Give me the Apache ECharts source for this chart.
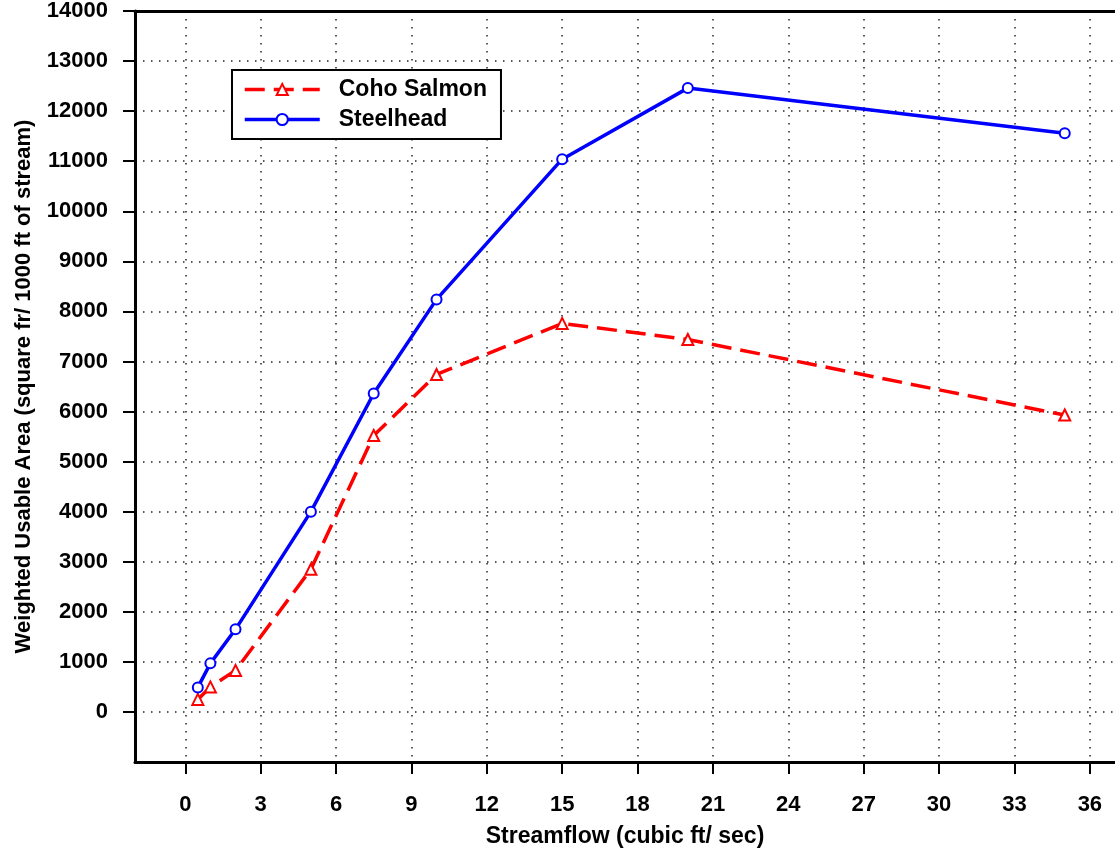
<!DOCTYPE html>
<html>
<head>
<meta charset="utf-8">
<script src="https://cdn.jsdelivr.net/npm/echarts@6/dist/echarts.min.js"></script>
<style>
  html, body { margin: 0; padding: 0; background: #fff; }
  #chart { width: 1115px; height: 858px; }
</style>
</head>
<body>
<div id="chart"></div>
<script>
const flows = [0.5, 1, 2, 5, 7.5, 10, 15, 20, 35];
const cohoSalmon = [250, 500, 830, 2850, 5520, 6740, 7760, 7440, 5930];
const steelhead = [490, 970, 1650, 4000, 6360, 8240, 11040, 12460, 11560];
const xTicks = [0, 3, 6, 9, 12, 15, 18, 21, 24, 27, 30, 33, 36];
const yTicks = [0, 1000, 2000, 3000, 4000, 5000, 6000, 7000, 8000, 9000, 10000, 11000, 12000, 13000, 14000];

const chart = echarts.init(document.getElementById('chart'));
const font = 'Liberation Sans, Arial, sans-serif';
const dotted = { color: '#222', width: 1.5, type: [1.5, 6.5] };

const option = {
  backgroundColor: '#fff',
  animation: false,
  textStyle: { fontFamily: font },
  grid: { left: 135, right: 0, top: 11, bottom: 96 },
  legend: {
    orient: 'vertical',
    left: 232,
    top: 70,
    padding: [8, 14, 8, 11],
    borderColor: '#000',
    borderWidth: 2,
    backgroundColor: '#fff',
    itemWidth: 75,
    itemHeight: 14,
    itemGap: 7,
    lineStyle: { width: 3.5 },
    textStyle: { fontSize: 23, fontWeight: 'bold', color: '#000', fontFamily: font, lineHeight: 23, padding: [0, 0, 0, 14] },
    data: ['Coho Salmon', 'Steelhead']
  },
  xAxis: [{
    type: 'value',
    min: -2,
    max: 37,
    name: 'Streamflow (cubic ft/ sec)',
    nameLocation: 'middle',
    nameGap: 63,
    nameTextStyle: { fontSize: 23, fontWeight: 'bold', color: '#000', fontFamily: font },
    axisLine: { onZero: false, lineStyle: { color: '#000', width: 3 } },
    axisTick: { show: true, inside: false, length: 12, customValues: xTicks, lineStyle: { color: '#000', width: 2 } },
    axisLabel: { customValues: xTicks, margin: 32, fontSize: 22, fontWeight: 'bold', color: '#000', fontFamily: font },
    splitLine: { show: true, lineStyle: dotted }
  }, {
    type: 'value',
    position: 'top',
    min: -2,
    max: 37,
    axisLine: { show: true, onZero: false, lineStyle: { color: '#000', width: 3 } },
    axisTick: { show: false },
    axisLabel: { show: false },
    splitLine: { show: false }
  }],
  yAxis: {
    type: 'value',
    min: -1000,
    max: 14000,
    interval: 1000,
    name: 'Weighted Usable Area (square fr/ 1000 ft of stream)',
    nameLocation: 'middle',
    nameGap: 100,
    nameTextStyle: { fontSize: 22, fontWeight: 'bold', color: '#000', fontFamily: font },
    axisLine: { show: true, onZero: false, lineStyle: { color: '#000', width: 3 } },
    axisTick: { show: true, inside: false, length: 12, customValues: yTicks, lineStyle: { color: '#000', width: 2 } },
    axisLabel: {
      customValues: yTicks,
      margin: 27,
      fontSize: 22,
      fontWeight: 'bold',
      color: '#000',
      fontFamily: font,
      formatter: v => String(v)
    },
    splitLine: { show: true, lineStyle: dotted }
  },
  series: [{
    name: 'Coho Salmon',
    type: 'line',
    data: flows.map((f, i) => [f, cohoSalmon[i]]),
    symbol: 'triangle',
    symbolSize: 11,
    showAllSymbol: true,
    color: '#ff0000',
    lineStyle: { color: '#ff0000', width: 3.5, type: [20, 9] },
    itemStyle: { color: '#fff', borderColor: '#ff0000', borderWidth: 2 },
    z: 3
  }, {
    name: 'Steelhead',
    type: 'line',
    data: flows.map((f, i) => [f, steelhead[i]]),
    symbol: 'circle',
    symbolSize: 10,
    showAllSymbol: true,
    color: '#0000ff',
    lineStyle: { color: '#0000ff', width: 3.5 },
    itemStyle: { color: '#fff', borderColor: '#0000ff', borderWidth: 2 },
    z: 4
  }]
};

chart.setOption(option);
</script>
</body>
</html>
